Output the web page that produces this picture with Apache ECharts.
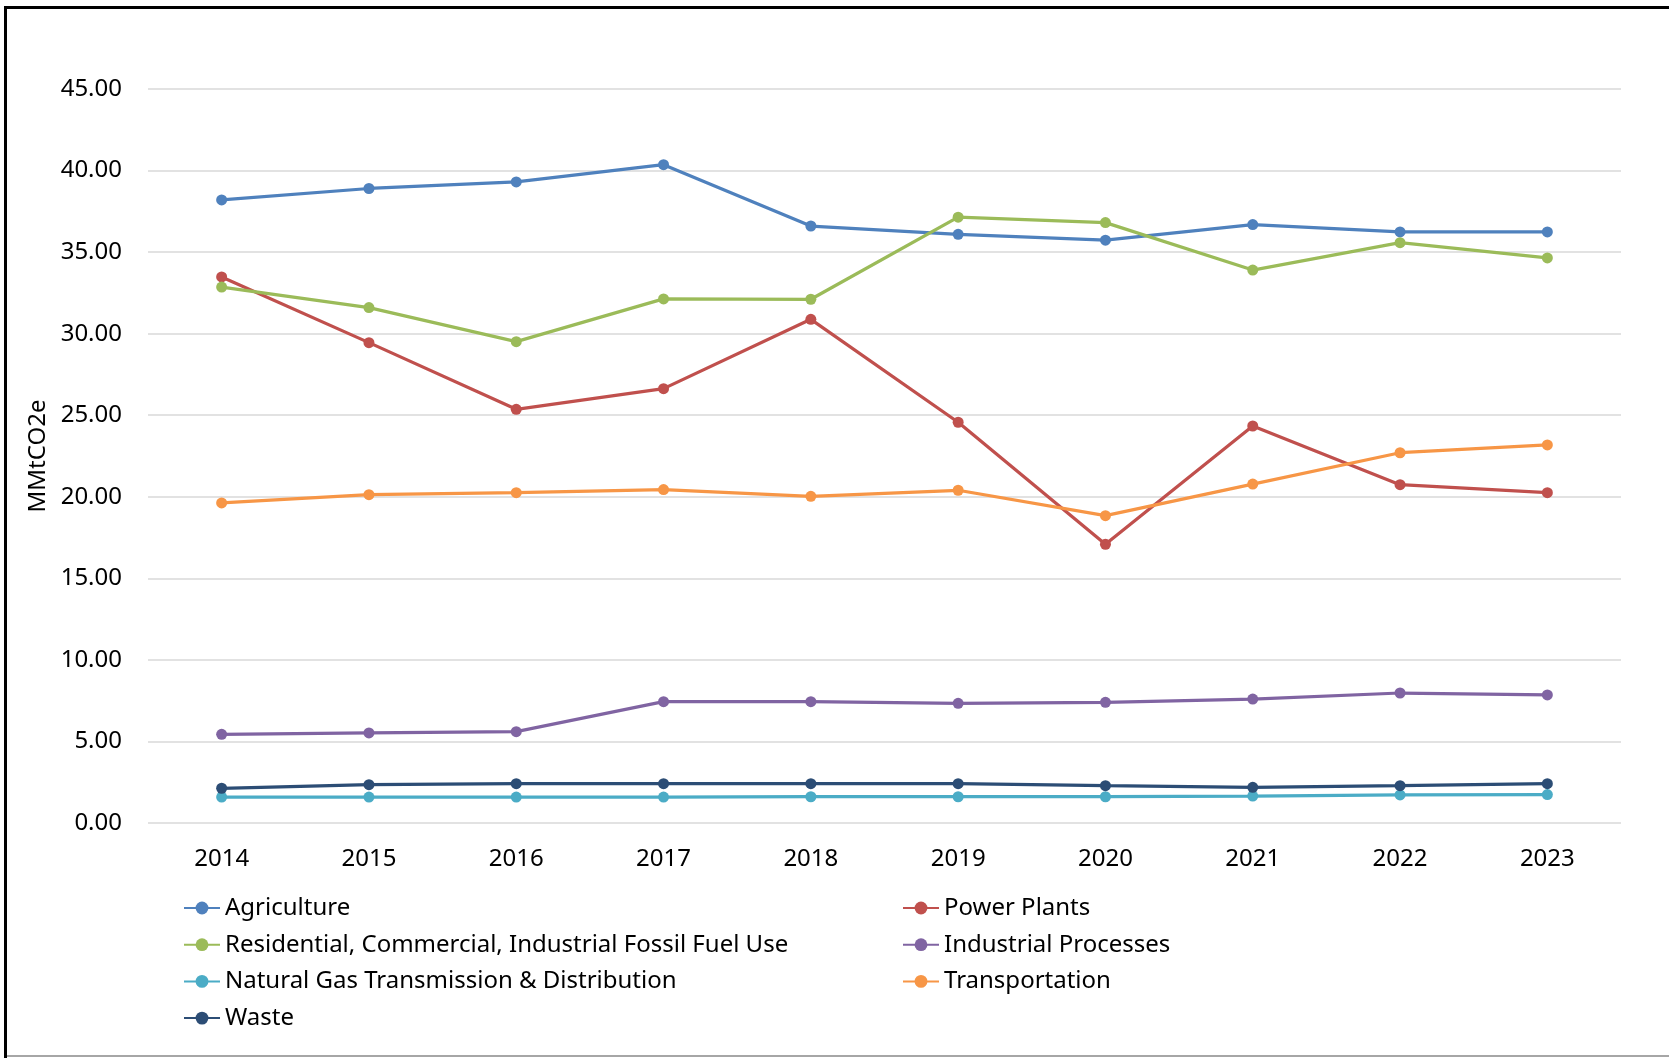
<!DOCTYPE html>
<html>
<head>
<meta charset="utf-8">
<script src="https://cdn.jsdelivr.net/npm/echarts@6/dist/echarts.min.js"></script>
<style>
  html, body { margin: 0; padding: 0; background: #ffffff; }
  #chart { width: 1669px; height: 1058px; }
</style>
</head>
<body>
<div id="chart"></div>
<script>
// Emissions by sector, MMtCO2e
const years = ['2014', '2015', '2016', '2017', '2018', '2019', '2020', '2021', '2022', '2023'];

const agriculture    = [38.20, 38.90, 39.30, 40.36, 36.60, 36.09, 35.73, 36.69, 36.24, 36.24];
const powerPlants    = [33.48, 29.45, 25.36, 26.63, 30.88, 24.57, 17.09, 24.34, 20.74, 20.25];
const residential    = [32.86, 31.60, 29.51, 32.13, 32.11, 37.14, 36.81, 33.90, 35.58, 34.64];
const industrial     = [5.44, 5.52, 5.60, 7.44, 7.44, 7.34, 7.40, 7.60, 7.97, 7.85];
const naturalGas     = [1.59, 1.59, 1.59, 1.59, 1.61, 1.61, 1.61, 1.65, 1.72, 1.74];
const transportation = [19.62, 20.13, 20.25, 20.44, 20.03, 20.40, 18.84, 20.78, 22.70, 23.18];
const waste          = [2.13, 2.35, 2.41, 2.41, 2.41, 2.41, 2.29, 2.19, 2.29, 2.41];

const yTicks = { min: 0, max: 45, interval: 5 };

const seriesDefs = [
  { name: 'Agriculture', data: agriculture, color: '#4F81BD' },
  { name: 'Power Plants', data: powerPlants, color: '#C0504D' },
  { name: 'Residential, Commercial, Industrial Fossil Fuel Use', data: residential, color: '#9BBB59' },
  { name: 'Industrial Processes', data: industrial, color: '#8064A2' },
  { name: 'Natural Gas Transmission & Distribution', data: naturalGas, color: '#4BACC6' },
  { name: 'Transportation', data: transportation, color: '#F79646' },
  { name: 'Waste', data: waste, color: '#2C4D75' }
];

const FONT = '"Noto Sans", sans-serif';
const FS = 24;
const W = 1669, H = 1058;

const legendBase = {
  orient: 'vertical',
  itemWidth: 36,
  itemHeight: 16,
  itemGap: 10.7,
  padding: 0,
  textStyle: { fontFamily: FONT, fontSize: FS, color: '#000000', lineHeight: 26 }
};

const chart = echarts.init(document.getElementById('chart'), null, { renderer: 'canvas', width: W, height: H });

chart.setOption({
  animation: false,
  backgroundColor: '#ffffff',
  grid: { left: 148, right: 48, top: 89, bottom: 235, containLabel: false },
  graphic: [
    // outer frame: black left and top edges, grey bottom edge
    { type: 'rect', shape: { x: 4, y: 6, width: 3, height: 1052 }, style: { fill: '#000000' }, silent: true },
    { type: 'rect', shape: { x: 4, y: 6, width: W - 4, height: 3 }, style: { fill: '#000000' }, silent: true },
    { type: 'rect', shape: { x: 7, y: 1055, width: W - 7, height: 2 }, style: { fill: '#a6a6a6' }, silent: true }
  ],
  legend: [
    Object.assign({}, legendBase, {
      left: 183, top: 895,
      data: ['Agriculture', 'Residential, Commercial, Industrial Fossil Fuel Use',
             'Natural Gas Transmission & Distribution', 'Waste']
    }),
    Object.assign({}, legendBase, {
      left: 902, top: 895,
      data: ['Power Plants', 'Industrial Processes', 'Transportation']
    })
  ],
  xAxis: {
    type: 'category',
    data: years,
    boundaryGap: true,
    axisLine: { show: false },
    axisTick: { show: false },
    axisLabel: { fontFamily: FONT, fontSize: FS, color: '#000000', margin: 24 }
  },
  yAxis: {
    type: 'value',
    min: yTicks.min,
    max: yTicks.max,
    interval: yTicks.interval,
    name: 'MMtCO2e',
    nameLocation: 'middle',
    nameGap: 91,
    nameTextStyle: { fontFamily: FONT, fontSize: FS, color: '#000000' },
    axisLine: { show: false },
    axisTick: { show: false },
    splitLine: { lineStyle: { color: '#d9d9d9', width: 1.5 } },
    axisLabel: {
      fontFamily: FONT, fontSize: FS, color: '#000000', margin: 26,
      formatter: v => v.toFixed(2)
    }
  },
  series: seriesDefs.map(s => ({
    name: s.name,
    type: 'line',
    data: s.data,
    symbol: 'circle',
    symbolSize: 11,
    showSymbol: true,
    lineStyle: { color: s.color, width: 3.25 },
    itemStyle: { color: s.color },
    emphasis: { disabled: true }
  }))
});
</script>
</body>
</html>
